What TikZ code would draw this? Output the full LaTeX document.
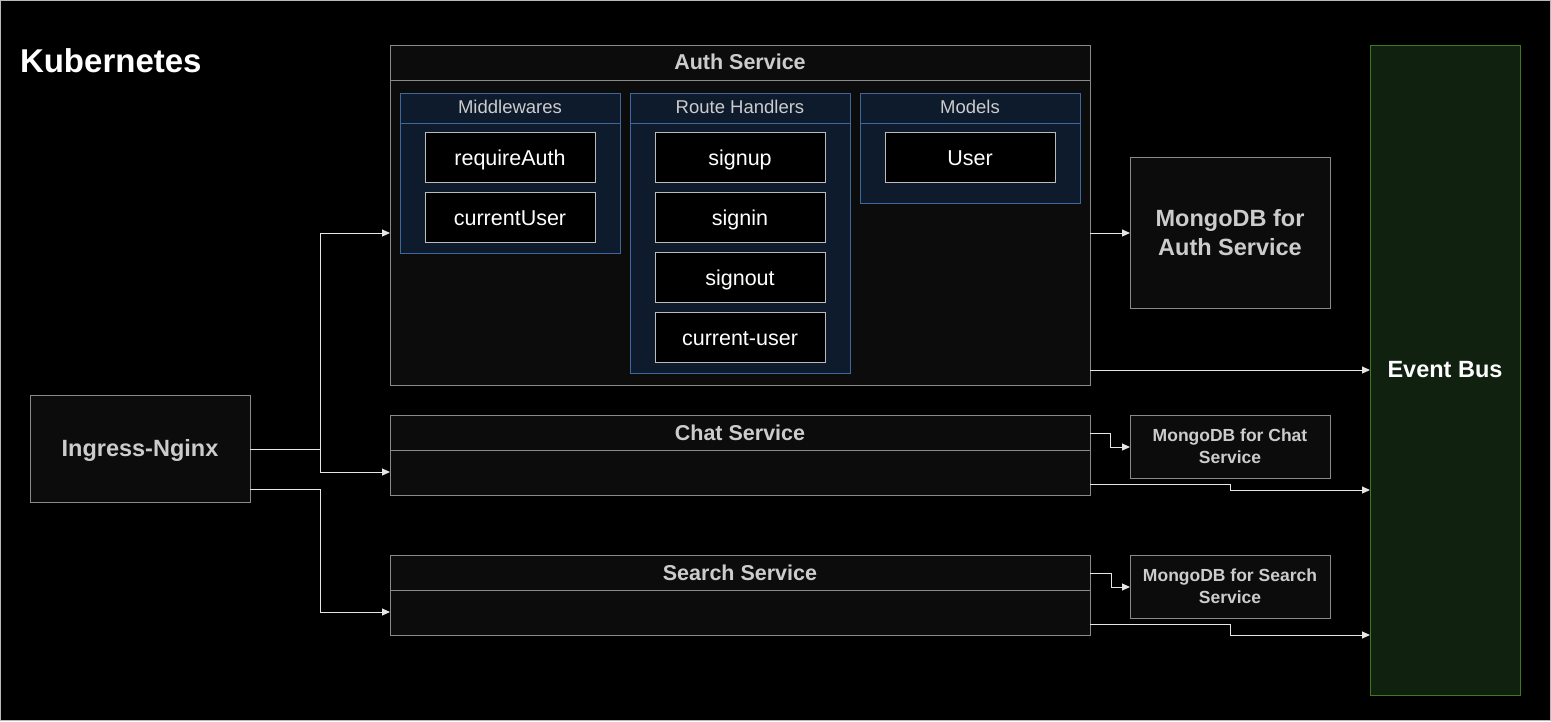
\documentclass[tikz,border=0pt]{standalone}
\usepackage{fontspec}
\setmainfont{Liberation Sans}
\usetikzlibrary{arrows.meta}
\definecolor{boxfill}{HTML}{0C0C0C}
\definecolor{bordergray}{HTML}{8A8A8A}
\definecolor{titlegray}{HTML}{CCCCCC}
\definecolor{navyfill}{HTML}{0E1B2C}
\definecolor{navyborder}{HTML}{3E679E}
\definecolor{itemborder}{HTML}{BBBBBB}
\definecolor{busfill}{HTML}{10220F}
\definecolor{busborder}{HTML}{3C7A1E}
\definecolor{linecol}{HTML}{E6E6E6}
\begin{document}
\begin{tikzpicture}[x=1pt,y=-1pt,
  every node/.style={inner sep=0pt, outer sep=0pt},
  svcbox/.style={draw=bordergray, fill=boxfill, line width=1pt, anchor=north west},
  navybox/.style={draw=navyborder, fill=navyfill, line width=1pt, anchor=north west},
  itembox/.style={draw=itemborder, fill=black, line width=1pt, minimum width=170pt, minimum height=50pt, anchor=north west, text=white, text height=16pt, text depth=0pt, font=\fontsize{21.5}{25}\selectfont},
  svctitle/.style={text=titlegray, font=\bfseries\fontsize{21.5}{25}\selectfont},
  navytitle/.style={text=titlegray, font=\fontsize{18.5}{22}\selectfont},
  bigtext/.style={text=titlegray, font=\bfseries\fontsize{23.5}{29}\selectfont, align=center},
  smalltext/.style={text=titlegray, font=\bfseries\fontsize{17.5}{22}\selectfont, align=center},
  sepline/.style={draw=bordergray, line width=1pt},
  navysep/.style={draw=navyborder, line width=1pt},
  conn/.style={draw=linecol, line width=1pt, -{Triangle[length=8pt,width=7pt]}}
]
\useasboundingbox (0,0) rectangle (1551,721);
\fill[black] (0,0) rectangle (1551,721);
\draw[draw=bordergray!60, line width=1pt] (0.5,0.5) rectangle (1550.5,720.5);

\node[anchor=west, text=white, font=\bfseries\fontsize{33}{38}\selectfont] (k8s) at (20,61) {Kubernetes};

% Auth service
\node[svcbox, minimum width=700pt, minimum height=340pt] (auth) at (390,45) {};
\draw[sepline] (390,80) -- (1090,80);
\node[svctitle] (authT) at (740,62) {Auth Service};

\node[navybox, minimum width=220pt, minimum height=160pt] (mw) at (400,93) {};
\draw[navysep] (400,123) -- (620,123);
\node[navytitle] (mwT) at (510,107) {Middlewares};
\node[itembox] (reqauth) at (425,132) {requireAuth};
\node[itembox] (curuser) at (425,192) {currentUser};

\node[navybox, minimum width=220pt, minimum height=280pt] (rh) at (630,93) {};
\draw[navysep] (630,123) -- (850,123);
\node[navytitle] (rhT) at (740,107) {Route Handlers};
\node[itembox] (signup) at (655,132) {signup};
\node[itembox] (signin) at (655,192) {signin};
\node[itembox] (signout) at (655,252) {signout};
\node[itembox] (curu) at (655,312) {current-user};

\node[navybox, minimum width=220pt, minimum height=110pt] (models) at (860,93) {};
\draw[navysep] (860,123) -- (1080,123);
\node[navytitle] (modelsT) at (970,107) {Models};
\node[itembox] (user) at (885,132) {User};

% Mongo auth
\node[svcbox, minimum width=200pt, minimum height=151pt] (mauth) at (1130,157) {};
\node[bigtext] (mauthT) at (1230,233) {MongoDB for\\Auth Service};

% Event bus
\node[draw=busborder, fill=busfill, line width=1pt, anchor=north west, minimum width=150pt, minimum height=650pt] (bus) at (1370,45) {};
\node[text=white, font=\bfseries\fontsize{23.5}{29}\selectfont] (busT) at (1445,370) {Event Bus};

% Ingress
\node[svcbox, minimum width=220pt, minimum height=107pt] (ing) at (30,395) {};
\node[bigtext] (ingT) at (140,450) {Ingress-Nginx};

% Chat service
\node[svcbox, minimum width=700pt, minimum height=80pt] (chat) at (390,415) {};
\draw[sepline] (390,450) -- (1090,450);
\node[svctitle] (chatT) at (740,432.5) {Chat Service};

% Search service
\node[svcbox, minimum width=700pt, minimum height=80pt] (search) at (390,555) {};
\draw[sepline] (390,590) -- (1090,590);
\node[svctitle] (searchT) at (740,572.5) {Search Service};

% Mongo chat / search
\node[svcbox, minimum width=200pt, minimum height=63pt] (mchat) at (1130,415) {};
\node[smalltext] (mchatT) at (1230,446) {MongoDB for Chat\\Service};
\node[svcbox, minimum width=200pt, minimum height=63pt] (msearch) at (1130,555) {};
\node[smalltext] (msearchT) at (1230,586) {MongoDB for Search\\Service};

% connectors
\coordinate (j1) at (320,449);
\coordinate (j2) at (320,489);
\draw[conn] (ing.east |- j1) -- (j1) |- (auth.west |- 0,233);
\draw[conn] (ing.east |- j1) -- (j1) |- (chat.west |- 0,472);
\draw[conn] (ing.east |- j2) -- (j2) |- (search.west |- 0,612);

\draw[conn] (auth.east |- 0,233) -- (mauth.west |- 0,233);
\draw[conn] (auth.east |- 0,370) -- (bus.west |- 0,370);

\draw[conn] (chat.east |- 0,433) -| (1110,447) -- (mchat.west |- 0,447);
\draw[conn] (chat.east |- 0,484) -| (1230,490) -- (bus.west |- 0,490);

\draw[conn] (search.east |- 0,573) -| (1111,587) -- (msearch.west |- 0,587);
\draw[conn] (search.east |- 0,624) -| (1230,635) -- (bus.west |- 0,635);
\end{tikzpicture}
\end{document}
